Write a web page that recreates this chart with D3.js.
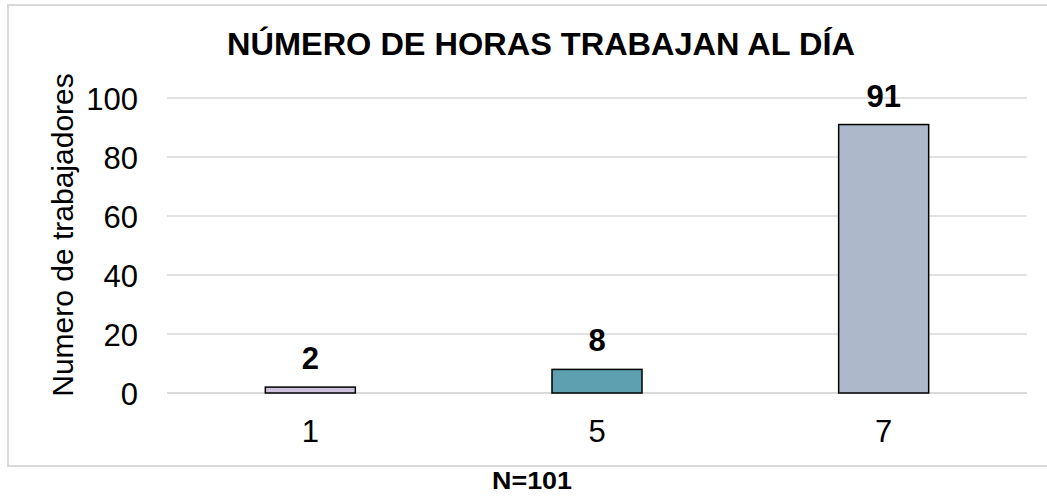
<!DOCTYPE html>
<html>
<head>
<meta charset="utf-8">
<script src="https://cdn.jsdelivr.net/npm/d3@7"></script>
<style>
  body { margin: 0; background: #fff; }
  svg text { font-family: "Liberation Sans", Arial, sans-serif; fill: #000; }
</style>
</head>
<body>
<div id="chart"></div>
<script>
// data
var categories = ["1", "5", "7"];
var values = [2, 8, 91];
var barColors = ["#ccc1da", "#5fa0b0", "#adb9ca"];
var yTicks = [0, 20, 40, 60, 80, 100];

var width = 1047, height = 500;

var svg = d3.select("#chart").append("svg")
  .attr("width", width)
  .attr("height", height);

// outer chart frame (right side runs off the picture)
svg.append("rect")
  .attr("x", 8).attr("y", 5)
  .attr("width", 1070).attr("height", 461)
  .attr("fill", "#fff")
  .attr("stroke", "#d9d9d9")
  .attr("stroke-width", 2);

var x = d3.scaleBand()
  .domain(categories)
  .range([167, 1027])
  .paddingInner(0.686)
  .paddingOuter(0.343);

var y = d3.scaleLinear()
  .domain([0, 100])
  .range([393, 98]);

// gridlines
svg.append("g")
  .selectAll("line")
  .data(yTicks)
  .enter()
  .append("line")
  .attr("x1", 167).attr("x2", 1027)
  .attr("y1", function(d) { return y(d); })
  .attr("y2", function(d) { return y(d); })
  .attr("stroke", "#d9d9d9")
  .attr("stroke-width", function(d) { return d === 0 ? 2 : 1.5; });

// y axis labels
var yAxis = d3.axisLeft(y).tickValues(yTicks).tickSize(0).tickPadding(0);
var gy = svg.append("g")
  .attr("transform", "translate(138,0)")
  .call(yAxis);
gy.select(".domain").remove();
gy.selectAll("text")
  .attr("font-size", 31)
  .attr("font-family", "Liberation Sans, Arial, sans-serif")
  .attr("fill", "#000")
  .attr("dy", "0.36em");

// x axis labels
var xAxis = d3.axisBottom(x).tickSize(0).tickPadding(0);
var gx = svg.append("g")
  .attr("transform", "translate(0,420)")
  .call(xAxis);
gx.select(".domain").remove();
gx.selectAll("text")
  .attr("font-size", 31)
  .attr("font-family", "Liberation Sans, Arial, sans-serif")
  .attr("fill", "#000")
  .attr("dy", "0.71em");

// bars
svg.append("g")
  .selectAll("rect")
  .data(values)
  .enter()
  .append("rect")
  .attr("x", function(d, i) { return x(categories[i]); })
  .attr("y", function(d) { return y(d); })
  .attr("width", x.bandwidth())
  .attr("height", function(d) { return y(0) - y(d); })
  .attr("fill", function(d, i) { return barColors[i]; })
  .attr("stroke", "#000")
  .attr("stroke-width", 1.5);

// value labels
svg.append("g")
  .selectAll("text")
  .data(values)
  .enter()
  .append("text")
  .attr("x", function(d, i) { return x(categories[i]) + x.bandwidth() / 2; })
  .attr("y", function(d) { return y(d) - 18; })
  .attr("text-anchor", "middle")
  .attr("font-size", 31)
  .attr("font-weight", "bold")
  .text(function(d) { return d; });

// title
svg.append("text")
  .attr("x", 541).attr("y", 55)
  .attr("text-anchor", "middle")
  .attr("font-size", 31)
  .attr("font-weight", "bold")
  .attr("textLength", 628)
  .attr("lengthAdjust", "spacingAndGlyphs")
  .text("NÚMERO DE HORAS TRABAJAN AL DÍA");

// y axis title
svg.append("text")
  .attr("transform", "translate(73,235) rotate(-90)")
  .attr("text-anchor", "middle")
  .attr("font-size", 30)
  .text("Numero de trabajadores");

// footnote under the frame
svg.append("text")
  .attr("x", 532).attr("y", 489)
  .attr("text-anchor", "middle")
  .attr("font-size", 24)
  .attr("font-weight", "bold")
  .attr("textLength", 80)
  .attr("lengthAdjust", "spacingAndGlyphs")
  .text("N=101");
</script>
</body>
</html>
